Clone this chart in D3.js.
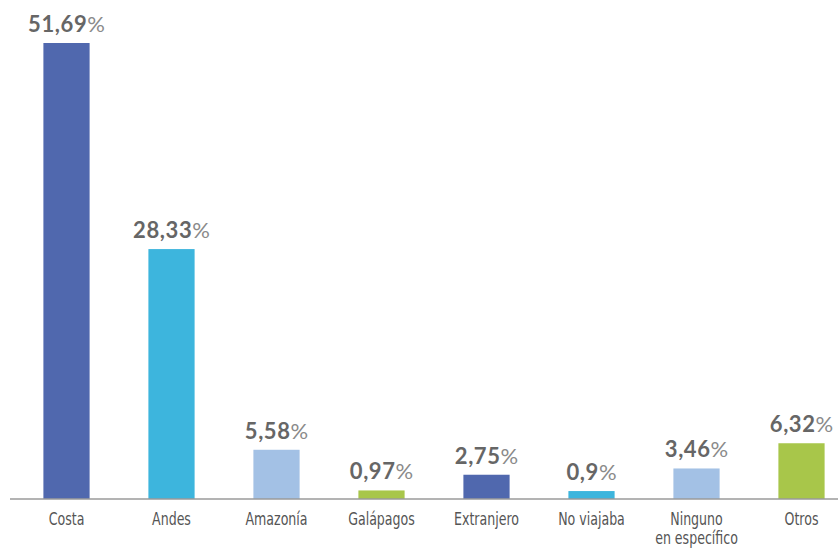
<!DOCTYPE html>
<html>
<head>
<meta charset="utf-8">
<script src="https://cdn.jsdelivr.net/npm/d3@7"></script>
<style>
  html, body { margin: 0; padding: 0; background: #fff; }
  svg { display: block; }
</style>
</head>
<body>
<div id="chart"></div>
<script>
// Datos
const categories = ["Costa", "Andes", "Amazonía", "Galápagos", "Extranjero", "No viajaba", "Ninguno\nen específico", "Otros"];
const values = [51.69, 28.33, 5.58, 0.97, 2.75, 0.9, 3.46, 6.32];
const valueLabels = ["51,69", "28,33", "5,58", "0,97", "2,75", "0,9", "3,46", "6,32"];
const barColors = ["#5068ae", "#3db5dd", "#a3c1e5", "#a8c64a", "#5068ae", "#3db5dd", "#a3c1e5", "#a8c64a"];

const W = 838, H = 548;
const baseY = 499, topY = 43;

const svg = d3.select("#chart")
    .append("svg")
    .attr("width", W)
    .attr("height", H);

// Skalen
const x = d3.scaleBand()
    .domain(categories)
    .range([14, 854])
    .paddingInner(0.56)
    .paddingOuter(0.28);

const y = d3.scaleLinear()
    .domain([0, d3.max(values)])
    .range([baseY, topY]);

// Balken
svg.selectAll(".bar")
    .data(categories)
    .join("rect")
    .attr("class", "bar")
    .attr("x", d => x(d))
    .attr("y", (d, i) => y(values[i]))
    .attr("width", x.bandwidth())
    .attr("height", (d, i) => baseY - y(values[i]))
    .attr("fill", (d, i) => barColors[i]);

// Werte-Beschriftung
const lbl = svg.selectAll(".val")
    .data(categories)
    .join("text")
    .attr("class", "val")
    .attr("x", d => x(d) + x.bandwidth() / 2)
    .attr("y", (d, i) => y(values[i]) - 11)
    .attr("text-anchor", "middle")
    .style("font-family", "Lato, 'Open Sans', sans-serif")
    .style("font-size", "22px");
lbl.append("tspan")
    .style("font-weight", "bold")
    .style("fill", "#666")
    .style("letter-spacing", "0.6px")
    .text((d, i) => valueLabels[i]);
lbl.append("tspan")
    .style("font-weight", "normal")
    .style("fill", "#8a8a8a")
    .text("%");

// X-Achse
const xAxis = d3.axisBottom(x).tickSize(0).tickSizeOuter(0).tickPadding(0);
const gx = svg.append("g")
    .attr("transform", `translate(0,${baseY})`)
    .call(xAxis);
gx.select(".domain")
    .attr("d", `M10,0H${W}`)
    .attr("stroke", "#9a9a9a")
    .attr("stroke-width", 1.5);
gx.selectAll(".tick text").each(function(d) {
    const t = d3.select(this);
    const lines = d.split("\n");
    t.text(null)
        .attr("y", 0)
        .attr("dy", null)
        .attr("transform", "scale(0.8,1)")
        .style("font-family", "'Liberation Sans Narrow', 'DejaVu Sans Condensed', sans-serif")
        .style("font-size", "17.5px")
        .style("fill", "#555");
    lines.forEach((l, k) => {
        t.append("tspan")
            .attr("x", 0)
            .attr("y", 26 + k * 19)
            .text(l);
    });
});
</script>
</body>
</html>
